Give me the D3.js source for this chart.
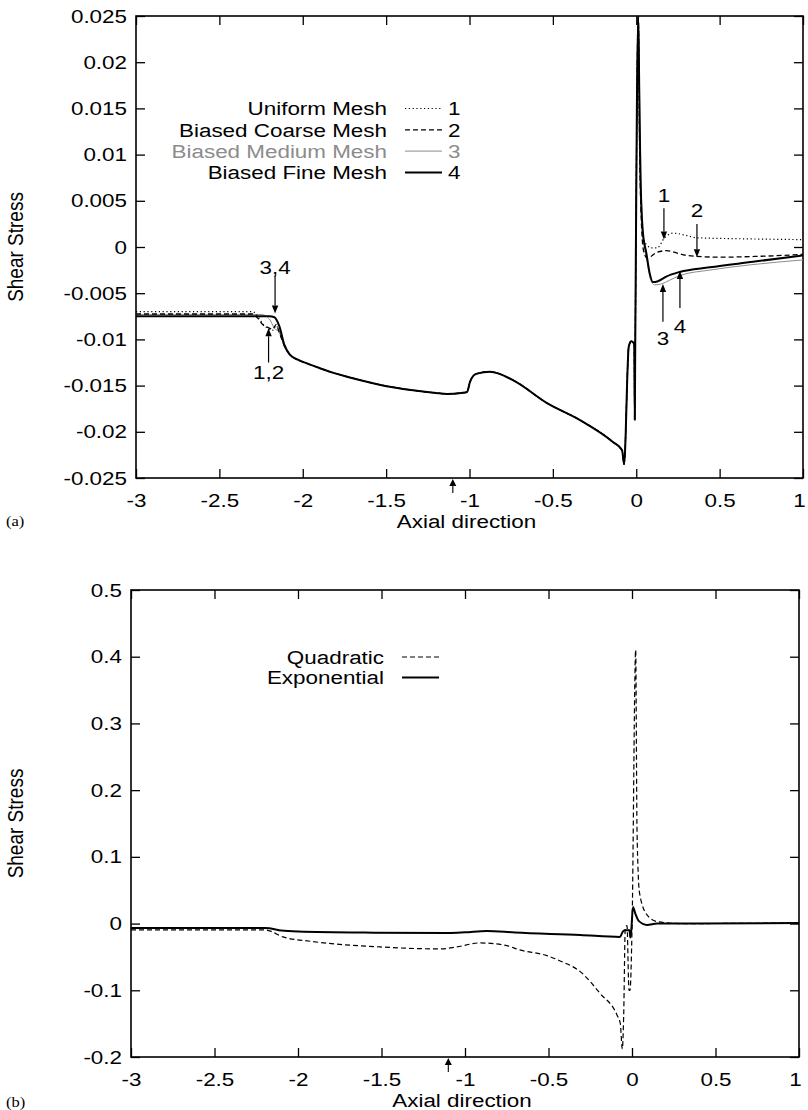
<!DOCTYPE html>
<html>
<head>
<meta charset="utf-8">
<script src="https://cdn.jsdelivr.net/npm/d3@7"></script>
<style>
  body { margin: 0; background: #fff; }
  svg { display: block; }
  text { font-family: "Liberation Sans", Arial, Helvetica, sans-serif; fill: #000; }
</style>
</head>
<body>
<svg id="fig" width="808" height="1110"></svg>
<script>
// ---------- axis ticks ----------
const xTickValues = [-3, -2.5, -2, -1.5, -1, -0.5, 0, 0.5, 1];
const topYTickValues = [-0.025, -0.02, -0.015, -0.01, -0.005, 0, 0.005, 0.01, 0.015, 0.02, 0.025];
const bottomYTickValues = [-0.2, -0.1, 0, 0.1, 0.2, 0.3, 0.4, 0.5];

// ---------- panel (a): wall shear stress for four meshes ----------
// shared part of the solution between the step and the outlet region
const meshCore = [
  [-2.08, -0.0116], [-2.03, -0.0122], [-1.975, -0.0126], [-1.9, -0.0131], [-1.82, -0.0136],
  [-1.7, -0.0142], [-1.54, -0.0149], [-1.34, -0.0155], [-1.2, -0.0158], [-1.135, -0.0159],
  [-1.05, -0.0158], [-1.015, -0.0157], [-0.997, -0.0146], [-0.975, -0.0139], [-0.955, -0.0137],
  [-0.877, -0.0135], [-0.74, -0.0144], [-0.535, -0.0169], [-0.34, -0.0187], [-0.14, -0.0211],
  [-0.085, -0.0220], [-0.073, -0.0235], [-0.045, -0.0108], [-0.03, -0.0102], [-0.012, -0.0105],
  [-0.009, -0.0187], [-0.006, -0.0106], [0.012, 0.025]
];

const uniformInlet = [
  [-3, -0.0070], [-2.3, -0.0070], [-2.27, -0.0075], [-2.24, -0.0083], [-2.21, -0.0088],
  [-2.18, -0.0090], [-2.16, -0.0085], [-2.14, -0.0092], [-2.11, -0.0107]
];
const uniformOutlet = [
  [0.02, 0.012], [0.03, 0.004], [0.045, 0.0008], [0.065, 0.0002], [0.09, -0.0001],
  [0.125, -0.0001], [0.17, 0.0010], [0.22, 0.0015], [0.29, 0.0013], [0.36, 0.0010],
  [0.6, 0.0009], [1.0, 0.0008]
];

const coarseInlet = [
  [-3, -0.00725], [-2.3, -0.00725], [-2.27, -0.0077], [-2.24, -0.0084], [-2.21, -0.0087],
  [-2.18, -0.0089], [-2.16, -0.0084], [-2.14, -0.0093], [-2.11, -0.0107]
];
const coarseOutlet = [
  [0.02, 0.011], [0.03, 0.003], [0.045, -0.0005], [0.065, -0.0012], [0.09, -0.0010],
  [0.12, -0.0006], [0.18, -0.0004], [0.3, -0.0009], [0.5, -0.0011], [0.75, -0.0010],
  [1.0, -0.0008]
];

const mediumInlet = [
  [-3, -0.0073], [-2.25, -0.0073], [-2.2, -0.0078], [-2.17, -0.0088], [-2.14, -0.0092],
  [-2.11, -0.0108]
];
const mediumOutlet = [
  [0.02, 0.016], [0.03, 0.006], [0.045, 0.0005], [0.065, -0.0015], [0.085, -0.0035],
  [0.11, -0.0041], [0.15, -0.0040], [0.2, -0.0036], [0.26, -0.0031], [0.44, -0.0025],
  [0.7, -0.0019], [1.0, -0.0014]
];

const fineInlet = [
  [-3, -0.0075], [-2.5, -0.0075], [-2.2, -0.0075], [-2.17, -0.0076], [-2.14, -0.0086],
  [-2.11, -0.0106]
];
const fineOutlet = [
  [0.018, 0.017], [0.025, 0.008], [0.04, 0.0015], [0.06, -0.0006], [0.08, -0.0028],
  [0.10, -0.0038], [0.13, -0.0037], [0.18, -0.0032], [0.26, -0.0027], [0.44, -0.0022],
  [0.7, -0.0016], [1.0, -0.0009]
];

const meshSeries = [
  { name: "Uniform Mesh",       key: "1", data: [...uniformInlet, ...meshCore, ...uniformOutlet] },
  { name: "Biased Coarse Mesh", key: "2", data: [...coarseInlet,  ...meshCore, ...coarseOutlet] },
  { name: "Biased Medium Mesh", key: "3", data: [...mediumInlet,  ...meshCore, ...mediumOutlet] },
  { name: "Biased Fine Mesh",   key: "4", data: [...fineInlet,    ...meshCore, ...fineOutlet] }
];

// numbered call-outs on panel (a): text position and arrow from -> to (data units)
const meshCallouts = [
  { label: "1",   x: 0.166,  textY: 0.0056,  from: 0.0042,  to: 0.0008 },
  { label: "2",   x: 0.364,  textY: 0.0040,  from: 0.0025,  to: -0.0011 },
  { label: "3",   x: 0.160,  textY: -0.0099, from: -0.0081, to: -0.0040 },
  { label: "4",   x: 0.262,  textY: -0.0086, from: -0.0066, to: -0.0026 },
  { label: "3,4", x: -2.166, textY: -0.0022, from: -0.0031, to: -0.0072 },
  { label: "1,2", x: -2.205, textY: -0.0135, from: -0.0125, to: -0.0088 }
];

// ---------- panel (b): quadratic vs exponential ----------
const quadraticSeries = [
  [-3, -0.0095], [-2.2, -0.0095], [-2.17, -0.011], [-2.09, -0.020], [-1.91, -0.027],
  [-1.51, -0.035], [-1.15, -0.038], [-1.05, -0.035], [-0.91, -0.029], [-0.75, -0.033],
  [-0.68, -0.039], [-0.51, -0.048], [-0.43, -0.056], [-0.31, -0.072], [-0.19, -0.105],
  [-0.09, -0.137], [-0.07, -0.150], [-0.058, -0.188], [-0.05, -0.140], [-0.04, -0.005],
  [-0.03, -0.003], [-0.018, -0.100], [-0.012, -0.100], [0.0, -0.010], [0.022, 0.410],
  [0.03, 0.140], [0.045, 0.046], [0.09, 0.013], [0.15, 0.003], [0.3, 0.0], [1.0, 0.001]
];
const exponentialSeries = [
  [-3, -0.0065], [-2.2, -0.0065], [-2.17, -0.007], [-2.1, -0.0105], [-2.0, -0.012],
  [-1.6, -0.0135], [-1.1, -0.014], [-1.0, -0.013], [-0.87, -0.011], [-0.7, -0.0135],
  [-0.31, -0.017], [-0.072, -0.020], [-0.055, -0.012], [-0.042, -0.010], [-0.015, -0.010],
  [-0.01, -0.021], [-0.005, -0.012], [0.006, 0.025], [0.02, 0.015], [0.04, 0.004],
  [0.09, -0.002], [0.15, 0.0], [0.4, 0.0], [1.0, 0.001]
];

// position of the small marker arrow on the axial axis
const axialMarkerX = -1.1;

// ---------- drawing ----------
const svg = d3.select("#fig");
const FONT = 19;          // glyph height
const WIDEN = 1.18;       // horizontal widening of all lettering

const styles = {
  "1": { stroke: "#000", width: 1.2, dash: "1.2,2.6" },
  "2": { stroke: "#000", width: 1.3, dash: "5,3" },
  "3": { stroke: "#8c8c8c", width: 1.0, dash: null },
  "4": { stroke: "#000", width: 2.0, dash: null },
  quad: { stroke: "#000", width: 1.2, dash: "5,3" },
  expo: { stroke: "#000", width: 2.0, dash: null }
};

function panel(cfg) {
  const { left, right, top, bottom, yDomain, yTicks, id } = cfg;
  const x = d3.scaleLinear().domain([-3, 1]).range([left, right]);
  const y = d3.scaleLinear().domain(yDomain).range([bottom, top]);
  const g = svg.append("g");

  svg.append("defs").append("clipPath").attr("id", id)
    .append("rect").attr("x", left).attr("y", top)
    .attr("width", right - left).attr("height", bottom - top);

  const TICK = 9;
  const fmt = d => String(d);

  const ax = (gen, tr) => {
    const a = g.append("g").attr("transform", tr).call(gen);
    a.select(".domain").remove();
    a.selectAll("line").attr("stroke", "#000").attr("stroke-width", 1.3);
    a.selectAll("text").style("font-size", FONT + "px")
      .style("font-family", '"Liberation Sans", Arial, Helvetica, sans-serif');
    return a;
  };
  const xAxis = ax(d3.axisBottom(x).tickValues(xTickValues).tickFormat(fmt)
      .tickSizeInner(-TICK).tickSizeOuter(0).tickPadding(15.5),
     `translate(0,${bottom})`);
  // keep the last label inside the figure
  xAxis.selectAll(".tick text").filter(d => d === 1).attr("x", -4);
  ax(d3.axisTop(x).tickValues(xTickValues).tickFormat("").tickSizeInner(-TICK).tickSizeOuter(0),
     `translate(0,${top})`);
  ax(d3.axisLeft(y).tickValues(yTicks).tickFormat(fmt).tickSizeInner(-TICK).tickSizeOuter(0).tickPadding(9),
     `translate(${left},0)`);
  ax(d3.axisRight(y).tickValues(yTicks).tickFormat("").tickSizeInner(-TICK).tickSizeOuter(0),
     `translate(${right},0)`);

  g.append("rect").attr("x", left).attr("y", top)
    .attr("width", right - left).attr("height", bottom - top)
    .attr("fill", "none").attr("stroke", "#000").attr("stroke-width", 1.6);

  // axis titles
  g.append("text").attr("x", (left + right) / 2 - 3).attr("y", bottom + 50)
    .attr("text-anchor", "middle").style("font-size", FONT + "px").text("Axial direction");
  g.append("text").classed("rotated", true)
    .attr("transform", `translate(${23},${(top + bottom) / 2}) scale(${WIDEN},1) rotate(-90)`)
    .attr("text-anchor", "middle").style("font-size", FONT + "px").text("Shear Stress");

  // marker arrow below the axial axis
  arrow(g, x(axialMarkerX), bottom + 15, x(axialMarkerX), bottom + 1, 1.1, 3.5, 7);

  const plot = g.append("g").attr("clip-path", `url(#${id})`);
  return { x, y, g, plot };
}

function arrow(g, x1, y1, x2, y2, w, hw, hl) {
  const ang = Math.atan2(y2 - y1, x2 - x1);
  const bx = x2 - hl * Math.cos(ang), by = y2 - hl * Math.sin(ang);
  g.append("line").attr("x1", x1).attr("y1", y1).attr("x2", bx).attr("y2", by)
    .attr("stroke", "#000").attr("stroke-width", w);
  const px = -Math.sin(ang) * hw, py = Math.cos(ang) * hw;
  g.append("path")
    .attr("d", `M${x2},${y2}L${bx + px},${by + py}L${bx - px},${by - py}Z`)
    .attr("fill", "#000");
}

function drawLine(p, data, st) {
  const line = d3.line().x(d => p.x(d[0])).y(d => p.y(d[1])).curve(d3.curveMonotoneX);
  p.plot.append("path").datum(data).attr("d", line)
    .attr("fill", "none").attr("stroke", st.stroke).attr("stroke-width", st.width)
    .attr("stroke-dasharray", st.dash).attr("stroke-linejoin", "round");
}

function legendRow(g, textRight, cy, label, st, key, textColor) {
  g.append("text").attr("x", textRight).attr("y", cy).attr("dy", "0.36em")
    .attr("text-anchor", "end").style("font-size", FONT + "px")
    .style("fill", textColor || "#000").text(label);
  g.append("line").attr("x1", textRight + 18).attr("x2", textRight + 55)
    .attr("y1", cy).attr("y2", cy)
    .attr("stroke", st.stroke).attr("stroke-width", st.width).attr("stroke-dasharray", st.dash);
  if (key) {
    g.append("text").attr("x", textRight + 61).attr("y", cy).attr("dy", "0.36em")
      .style("font-size", FONT + "px").style("fill", textColor || "#000").text(key);
  }
}

// panel (a)
const pa = panel({ id: "clipA", left: 136, right: 803, top: 16, bottom: 478,
                   yDomain: [-0.025, 0.025], yTicks: topYTickValues });
[meshSeries[2], meshSeries[0], meshSeries[1], meshSeries[3]].forEach(s => drawLine(pa, s.data, styles[s.key]));

meshSeries.forEach((s, i) => {
  const gray = s.key === "3" ? "#8c8c8c" : null;
  legendRow(pa.g, 387, 108.5 + i * 21.3, s.name, styles[s.key], s.key, gray);
});

meshCallouts.forEach(c => {
  const cx = pa.x(c.x);
  pa.g.append("text").attr("x", cx).attr("y", pa.y(c.textY)).attr("dy", "0.36em")
    .attr("text-anchor", "middle").style("font-size", FONT + "px").text(c.label);
  arrow(pa.g, cx, pa.y(c.from), cx, pa.y(c.to), 1.2, 3.2, 8);
});

svg.append("text").attr("x", 6).attr("y", 526)
  .style("font-family", '"Liberation Serif", "Times New Roman", serif')
  .style("font-size", "14px").text("(a)");

// panel (b)
const pb = panel({ id: "clipB", left: 131, right: 799, top: 590, bottom: 1057,
                   yDomain: [-0.2, 0.5], yTicks: bottomYTickValues });
drawLine(pb, quadraticSeries, styles.quad);
drawLine(pb, exponentialSeries, styles.expo);
legendRow(pb.g, 384, 657, "Quadratic", styles.quad, null);
legendRow(pb.g, 384, 677.5, "Exponential", styles.expo, null);

svg.append("text").attr("x", 6).attr("y", 1107)
  .style("font-family", '"Liberation Serif", "Times New Roman", serif')
  .style("font-size", "14px").text("(b)");

// widen all horizontal lettering about its own anchor point
svg.selectAll("text").filter(function () { return !this.classList.contains("rotated"); })
  .each(function () {
    const t = d3.select(this);
    const tx = +t.attr("x") || 0, ty = +t.attr("y") || 0;
    const tr = t.attr("transform") || "";
    t.attr("x", 0).attr("y", 0)
      .attr("transform", `${tr} translate(${tx},${ty}) scale(${WIDEN},1)`);
  });
</script>
</body>
</html>
